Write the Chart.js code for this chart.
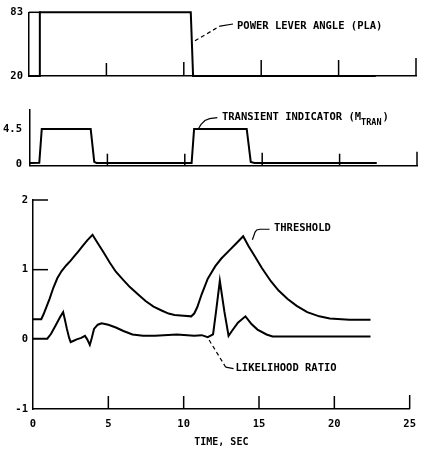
<!DOCTYPE html>
<html>
<head>
<meta charset="utf-8">
<script src="https://cdn.jsdelivr.net/npm/chart.js@4"></script>
<style>
    body { margin: 0; background: #fff; width: 425px; height: 449px; position: relative; overflow: hidden; }
    canvas { position: absolute; left: 0; }
</style>
</head>
<body>
<canvas id="plaChart"  width="425" height="90"  style="top:0px"></canvas>
<canvas id="tranChart" width="425" height="85"  style="top:95px"></canvas>
<canvas id="lrChart"   width="425" height="264" style="top:185px"></canvas>
<script>
// time axis (sec)
const TIME_TICKS = [0, 5, 10, 15, 20, 25];

// power lever angle
const plaTime  = [0, 0.7, 0.7, 10.45, 10.6, 22.4];
const plaValue = [20, 20, 83, 83, 20, 20];
const plaTicks = [20, 83];

// transient indicator
const tranTime  = [0, 0.6, 0.76, 3.92, 4.15, 4.3, 10.44, 10.6, 14.0, 14.26, 14.5, 22.4];
const tranValue = [0.1, 0.12, 4.5, 4.5, 0.24, 0.1, 0.1, 4.5, 4.5, 0.24, 0.1, 0.1];
const tranTicks = [0, 4.5];

// threshold
const thrTime  = [0, 0.55, 0.7, 0.9, 1.1, 1.35, 1.62, 1.9, 2.2, 2.5, 2.73, 3.0, 3.3, 3.6, 3.95,
                  4.3, 4.68, 5.1, 5.5, 6.0, 6.43, 7.0, 7.47, 8.0, 8.57, 9.0, 9.4, 10.0, 10.5,
                  10.7, 10.9, 11.2, 11.6, 12.1, 12.5, 13.0, 13.5, 13.95,
                  14.3, 14.7, 15.2, 15.8, 16.3, 16.9, 17.5, 18.2, 19.0, 19.7, 21.0, 22.4];
const thrValue = [0.29, 0.29, 0.36, 0.47, 0.58, 0.74, 0.88, 0.98, 1.06, 1.13, 1.19, 1.26, 1.34, 1.42, 1.5,
                  1.38, 1.25, 1.1, 0.97, 0.85, 0.75, 0.64, 0.55, 0.47, 0.41, 0.37, 0.35, 0.34, 0.33,
                  0.37, 0.46, 0.65, 0.87, 1.05, 1.16, 1.27, 1.38, 1.48,
                  1.34, 1.2, 1.02, 0.83, 0.7, 0.58, 0.48, 0.39, 0.33, 0.3, 0.28, 0.28];

// likelihood ratio
const lrTime  = [0, 0.95, 1.2, 1.5, 1.8, 2.0, 2.1, 2.25, 2.4, 2.5, 2.7, 2.9, 3.2, 3.45, 3.6, 3.77, 3.9, 4.05, 4.3, 4.55,
                 5.0, 5.5, 6.0, 6.6, 7.3, 8.1, 9.55, 10.7, 11.2, 11.6, 11.95, 12.15, 12.4, 12.7, 12.98,
                 13.2, 13.6, 14.1, 14.5, 14.9, 15.5, 15.9, 22.4];
const lrValue = [0.01, 0.01, 0.08, 0.2, 0.32, 0.39, 0.3, 0.15, 0.02, -0.04, -0.02, 0, 0.02, 0.05, 0.0, -0.08, 0.02, 0.15, 0.21, 0.23,
                 0.21, 0.17, 0.12, 0.07, 0.05, 0.05, 0.07, 0.05, 0.06, 0.03, 0.07, 0.4, 0.84, 0.4, 0.05,
                 0.12, 0.24, 0.33, 0.22, 0.14, 0.07, 0.04, 0.04];
const lrTicks = [-1, 0, 1, 2];

const FONT = "'DejaVu Sans Mono'";
const pts = (ts, vs) => ts.map((t, i) => ({ x: t, y: vs[i] }));

// inner tick marks + labelled leaders, all placed through the chart scales
const marksPlugin = {
    id: 'marks',
    afterDraw(chart, args, opts) {
        const { ctx, scales: { x, y } } = chart;
        const P = p => [x.getPixelForValue(p[0]), y.getPixelForValue(p[1])];
        ctx.save();
        ctx.strokeStyle = '#000';
        ctx.lineWidth = 1.5;
        (opts.xTicks || []).forEach(t => {
            const px = x.getPixelForValue(t.v);
            ctx.beginPath(); ctx.moveTo(px, y.bottom); ctx.lineTo(px, y.bottom - t.len); ctx.stroke();
        });
        (opts.yTicks || []).forEach(t => {
            const py = y.getPixelForValue(t.v);
            ctx.beginPath(); ctx.moveTo(x.left, py); ctx.lineTo(x.left + t.len, py); ctx.stroke();
        });
        (opts.notes || []).forEach(n => {
            ctx.lineWidth = 1.2;
            if (n.dashed) {
                ctx.setLineDash([4, 3]);
                ctx.beginPath();
                n.dashed.forEach((p, i) => { const [a, b] = P(p); i ? ctx.lineTo(a, b) : ctx.moveTo(a, b); });
                ctx.stroke();
            }
            if (n.solid) {
                ctx.setLineDash([]);
                ctx.beginPath();
                n.solid.forEach((p, i) => { const [a, b] = P(p); i ? ctx.lineTo(a, b) : ctx.moveTo(a, b); });
                ctx.stroke();
            }
            ctx.setLineDash([]);
            ctx.fillStyle = '#000';
            ctx.textBaseline = 'middle';
            ctx.textAlign = 'left';
            ctx.font = `bold 10.5px ${FONT}`;
            let [tx, ty] = P(n.at);
            ctx.fillText(n.text, tx, ty);
            if (n.sub) {
                tx += ctx.measureText(n.text).width;
                ctx.font = `bold 8.5px ${FONT}`;
                ctx.fillText(n.sub, tx, ty + 5);
                tx += ctx.measureText(n.sub).width + 1;
                ctx.font = `bold 10.5px ${FONT}`;
                ctx.fillText(n.after, tx, ty);
            }
        });
        ctx.restore();
    }
};

function lineSet(data) {
    return { data, borderColor: '#000', borderWidth: 2, pointRadius: 0, tension: 0, clip: false, fill: false };
}

function makeChart(id, cfg) {
    return new Chart(document.getElementById(id), {
        type: 'line',
        data: { datasets: cfg.datasets.map(lineSet) },
        options: {
            responsive: false,
            animation: false,
            events: [],
            layout: { padding: { left: 0, right: cfg.right, top: cfg.top, bottom: 0 } },
            plugins: { legend: { display: false }, tooltip: { enabled: false }, marks: cfg.marks },
            scales: {
                x: {
                    type: 'linear', min: 0, max: 25,
                    afterBuildTicks: s => { s.ticks = TIME_TICKS.map(v => ({ value: v })); },
                    afterFit: s => { s.height = cfg.xHeight; },
                    grid: { drawOnChartArea: false, drawTicks: false },
                    border: { display: true, color: '#000', width: 1.5 },
                    ticks: { display: !!cfg.xLabels, padding: 9, color: '#000', font: { family: FONT, size: 10.5, weight: 'bold' } },
                    title: cfg.xTitle ? { display: true, text: cfg.xTitle, color: '#000', padding: { top: 0, bottom: 1 }, font: { family: FONT, size: 10, weight: 'bold' } } : { display: false }
                },
                y: {
                    type: 'linear', min: cfg.yMin, max: cfg.yMax,
                    afterBuildTicks: s => { s.ticks = cfg.yTicks.map(v => ({ value: v })); },
                    afterFit: s => { s.width = cfg.yWidth; },
                    grid: { drawOnChartArea: false, drawTicks: false },
                    border: { display: true, color: '#000', width: 1.5 },
                    ticks: { padding: cfg.yPad, color: '#000', font: { family: FONT, size: 10.5, weight: 'bold' } }
                }
            }
        },
        plugins: [marksPlugin]
    });
}

makeChart('plaChart', {
    datasets: [pts(plaTime, plaValue)],
    yMin: 20, yMax: 83, yTicks: plaTicks, yWidth: 29, yPad: 6,
    top: 11, right: 9, xHeight: 14,
    marks: {
        xTicks: [{ v: 5, len: 13 }, { v: 10, len: 14 }, { v: 15, len: 16 }, { v: 20, len: 16 }, { v: 25, len: 18 }],
        yTicks: [{ v: 83, len: 12 }],
        notes: [{ text: 'POWER LEVER ANGLE (PLA)', at: [13.44, 69.4],
                  dashed: [[10.72, 54.9], [12.34, 69.4]], solid: [[12.34, 69.4], [13.18, 71.4]] }]
    }
});

makeChart('tranChart', {
    datasets: [pts(tranTime, tranValue)],
    yMin: -0.25, yMax: 7.05, yTicks: tranTicks, yWidth: 30, yPad: 8,
    top: 14, right: 8, xHeight: 11,
    marks: {
        xTicks: [{ v: 5, len: 12 }, { v: 10, len: 12 }, { v: 15, len: 13 }, { v: 20, len: 12 }, { v: 25, len: 14 }],
        notes: [{ text: 'TRANSIENT INDICATOR (M', sub: 'TRAN', after: ')', at: [12.4, 5.96],
                  solid: [[10.9, 4.6], [11.05, 5.1], [11.3, 5.6], [11.6, 5.85], [12.1, 5.96]] }]
    }
});

makeChart('lrChart', {
    datasets: [pts(thrTime, thrValue), pts(lrTime, lrValue)],
    yMin: -1, yMax: 2, yTicks: lrTicks, yWidth: 33, yPad: 5,
    top: 15, right: 7, xHeight: 40, xLabels: true, xTitle: 'TIME, SEC',
    marks: {
        xTicks: [{ v: 5, len: 13 }, { v: 10, len: 13 }, { v: 15, len: 13 }, { v: 20, len: 13 }, { v: 25, len: 14 }],
        yTicks: [{ v: 2, len: 15 }, { v: 1, len: 15 }],
        notes: [
            { text: 'THRESHOLD', at: [15.99, 1.59],
              solid: [[14.56, 1.43], [14.74, 1.54], [14.85, 1.57], [15.06, 1.58], [15.7, 1.58]] },
            { text: 'LIKELIHOOD RATIO', at: [13.44, -0.42],
              dashed: [[11.69, -0.01], [12.79, -0.40]], solid: [[12.79, -0.40], [13.31, -0.42]] }
        ]
    }
});
</script>
</body>
</html>
